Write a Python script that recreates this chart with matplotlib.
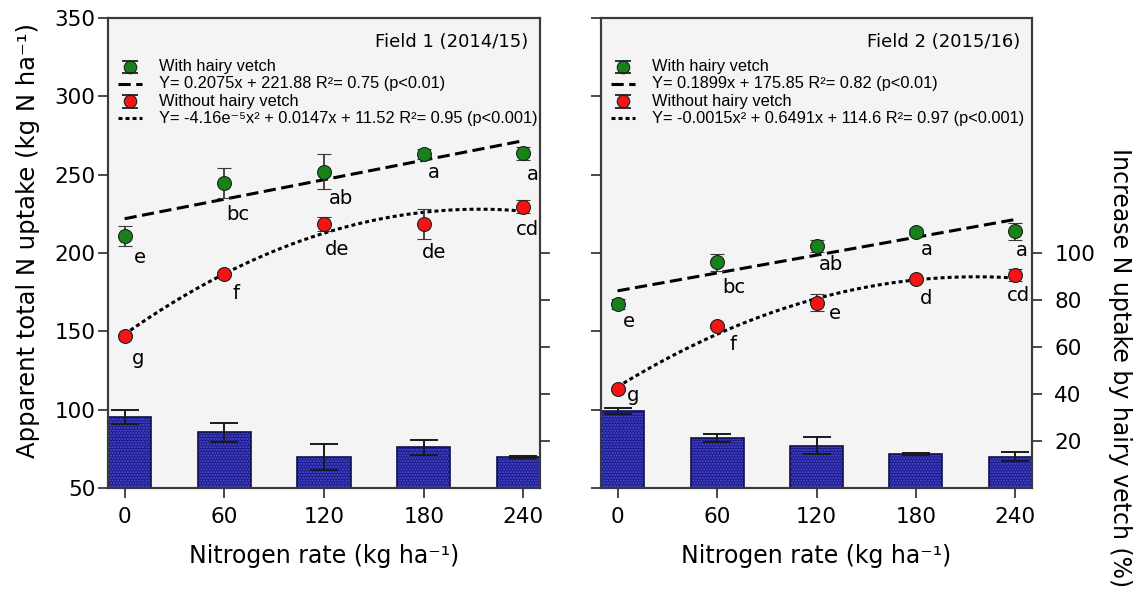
import numpy as np
import matplotlib
matplotlib.use("Agg")
import matplotlib.pyplot as plt

# ── values ───────────────────────────────────────────────────────────
n_rate = [0, 60, 120, 180, 240]

# Field 1 (2014/15)
f1_with         = [210.8, 244.5, 251.9, 263.2, 263.6]
f1_with_err     = [6.3, 9.5, 11.3, 3.0, 4.3]
f1_without      = [147.2, 186.6, 218.5, 218.3, 229.6]
f1_without_err  = [1.0, 1.0, 4.3, 9.6, 4.3]
f1_increase     = [30.2, 23.7, 13.2, 17.3, 13.2]
f1_increase_err = [3.1, 4.0, 5.4, 3.3, 0.3]
f1_with_letters    = ["e", "bc", "ab", "a", "a"]
f1_without_letters = ["g", "f", "de", "de", "cd"]
f1_with_fit = [0.2075, 221.88]          # slope, intercept (as printed)
f1_title      = "Field 1 (2014/15)"
f1_with_eq    = "Y= 0.2075x + 221.88 R²= 0.75 (p<0.01)"
f1_without_eq = "Y= -4.16e⁻⁵x² + 0.0147x + 11.52 R²= 0.95 (p<0.001)"

# Field 2 (2015/16)
f2_with         = [167.4, 194.1, 204.5, 213.4, 213.8]
f2_with_err     = [3.0, 5.3, 3.7, 2.0, 5.3]
f2_without      = [113.0, 153.4, 168.3, 183.2, 186.2]
f2_without_err  = [1.0, 1.0, 5.6, 1.0, 3.9]
f2_increase     = [32.9, 21.1, 18.0, 14.5, 13.3]
f2_increase_err = [1.3, 1.7, 3.7, 0.4, 1.9]
f2_with_letters    = ["e", "bc", "ab", "a", "a"]
f2_without_letters = ["g", "f", "e", "d", "cd"]
f2_with_fit    = [0.1899, 175.85]
f2_without_fit = [-0.0015, 0.6491, 114.6]
f2_title      = "Field 2 (2015/16)"
f2_with_eq    = "Y= 0.1899x + 175.85 R²= 0.82 (p<0.01)"
f2_without_eq = "Y= -0.0015x² + 0.6491x + 114.6 R²= 0.97 (p<0.001)"

# field 1 printed quadratic is garbled, so refit it from the means
f1_without_fit = list(np.polyfit(n_rate, f1_without, 2))

# ── styling ──────────────────────────────────────────────────────────
GREEN = "#178217"
RED = "#f41414"
BAR_BLUE = "#1a1a88"
BAR_DOT = "#5252dc"
BG = "#f4f4f4"
SPINE = "#3a3a3a"
LEG_FONT = ["Liberation Sans", "DejaVu Sans"]

# letter offsets in pixels (right, down) from each point
f1_with_off    = [(15, 21), (14, 31), (17, 27), (10, 19), (9, 21)]
f1_without_off = [(13, 23), (12, 20), (13, 25), (10, 28), (4, 23)]
f2_with_off    = [(11, 17), (17, 25), (14, 19), (11, 17), (6, 19)]
f2_without_off = [(15, 6), (16, 18), (18, 11), (10, 19), (3, 21)]

plt.rcParams["font.family"] = "DejaVu Sans"

fig = plt.figure(figsize=(11.38, 5.93), dpi=100)
W, H = 1138, 593
ax1 = fig.add_axes([108 / W, 105 / H, 432 / W, 470 / H])
ax2 = fig.add_axes([601 / W, 105 / H, 431 / W, 470 / H])


def panel(ax, title, with_v, with_e, wo_v, wo_e, inc, inc_e,
          with_lab, wo_lab, with_off, wo_off, lin_fit, quad_fit,
          eq_with, eq_wo, right_labels):
    tw = ax.twinx()
    ax.set_zorder(tw.get_zorder() + 1)
    ax.patch.set_visible(False)
    tw.patch.set_visible(True)
    tw.patch.set_facecolor(BG)

    # bars: increase in N uptake (%) on the secondary axis
    tw.bar(n_rate, inc, width=32, color=BAR_BLUE, edgecolor=BAR_DOT,
           hatch="......", linewidth=0, zorder=2)
    tw.bar(n_rate, inc, width=32, fill=False, edgecolor="#10104a",
           linewidth=1.2, zorder=3)
    tw.errorbar(n_rate, inc, yerr=inc_e, fmt="none", ecolor="#1a1a1a",
                elinewidth=1.4, capsize=10, capthick=1.4, zorder=4)
    tw.set_ylim(0, 200)
    tw.set_yticks([20, 40, 60, 80, 100])
    tw.tick_params(axis="y", direction="out", length=7, width=1.3,
                   color=SPINE, labelsize=15.5, pad=9,
                   labelright=right_labels)

    # fitted curves
    xs = np.linspace(0, 240, 200)
    ax.plot(xs, np.polyval(lin_fit, xs), color="black", lw=2.2,
            ls=(0, (4, 1.8)), zorder=3)
    ax.plot(xs, np.polyval(quad_fit, xs), color="black", lw=2.2,
            ls=(0, (1.3, 1.0)), zorder=3)

    # treatment means
    for vals, errs, col in ((with_v, with_e, GREEN), (wo_v, wo_e, RED)):
        ax.errorbar(n_rate, vals, yerr=errs, fmt="o", ms=10, mfc=col,
                    mec="#202020", mew=0.8, ecolor="#3a3a3a",
                    elinewidth=1.3, capsize=5, capthick=1.3, zorder=4)

    for vals, labs, offs in ((with_v, with_lab, with_off),
                             (wo_v, wo_lab, wo_off)):
        for x, y, s, (dx, dy) in zip(n_rate, vals, labs, offs):
            ax.annotate(s, (x, y), xytext=(dx, -dy),
                        textcoords="offset pixels", ha="center",
                        va="center", fontsize=14, zorder=5)

    ax.set_xlim(-10, 250)
    ax.set_ylim(50, 350)
    ax.set_xticks(n_rate)
    ax.set_yticks(range(50, 351, 50))
    ax.tick_params(direction="out", length=7, width=1.3, color=SPINE,
                   labelsize=15.5)
    ax.tick_params(axis="y", pad=2)
    ax.tick_params(axis="x", pad=7)
    ax.set_xlabel("Nitrogen rate (kg ha⁻¹)", fontsize=17, labelpad=12)
    for a in (ax, tw):
        for sp in a.spines.values():
            sp.set_color(SPINE)
            sp.set_linewidth(1.5)

    # title and key
    ax.text(0.972, 0.949, title, transform=ax.transAxes, ha="right",
            va="center", fontsize=13)
    rows = [0.896, 0.860, 0.823, 0.787]
    mx, lx0, lx1, tx = 0.051, 0.023, 0.079, 0.118
    for y, col in ((rows[0], GREEN), (rows[2], RED)):
        ax.plot([mx], [y], "o", ms=9, mfc=col, mec="#202020", mew=0.8,
                transform=ax.transAxes, clip_on=False, zorder=6)
        for d in (-0.0135, 0.0135):
            ax.plot([mx], [y + d], marker="_", ms=11, mew=1.3,
                    color="#202020", transform=ax.transAxes, zorder=6)
    ax.plot([lx0, lx1], [rows[1]] * 2, color="black", lw=2.2,
            ls=(0, (4, 1.8)), transform=ax.transAxes)
    ax.plot([lx0, lx1], [rows[3]] * 2, color="black", lw=2.2,
            ls=(0, (1.3, 1.0)), transform=ax.transAxes)
    labels = ["With hairy vetch", eq_with, "Without hairy vetch", eq_wo]
    for y, s in zip(rows, labels):
        ax.text(tx, y, s, transform=ax.transAxes, ha="left", va="center",
                fontsize=11.8, family=LEG_FONT)
    return tw


panel(ax1, f1_title, f1_with, f1_with_err, f1_without, f1_without_err,
      f1_increase, f1_increase_err, f1_with_letters, f1_without_letters,
      f1_with_off, f1_without_off, f1_with_fit, f1_without_fit,
      f1_with_eq, f1_without_eq, right_labels=False)
panel(ax2, f2_title, f2_with, f2_with_err, f2_without, f2_without_err,
      f2_increase, f2_increase_err, f2_with_letters, f2_without_letters,
      f2_with_off, f2_without_off, f2_with_fit, f2_without_fit,
      f2_with_eq, f2_without_eq, right_labels=True)
ax2.tick_params(axis="y", labelleft=False)

fig.text(28 / W, 1 - 240 / H, "Apparent total N uptake (kg N ha⁻¹)",
         rotation=90, ha="center", va="center", fontsize=17.5)
fig.text(1120 / W, 1 - 368 / H, "Increase N uptake by hairy vetch (%)",
         rotation=270, ha="center", va="center", fontsize=17)

fig.savefig("out.png", dpi=100)
